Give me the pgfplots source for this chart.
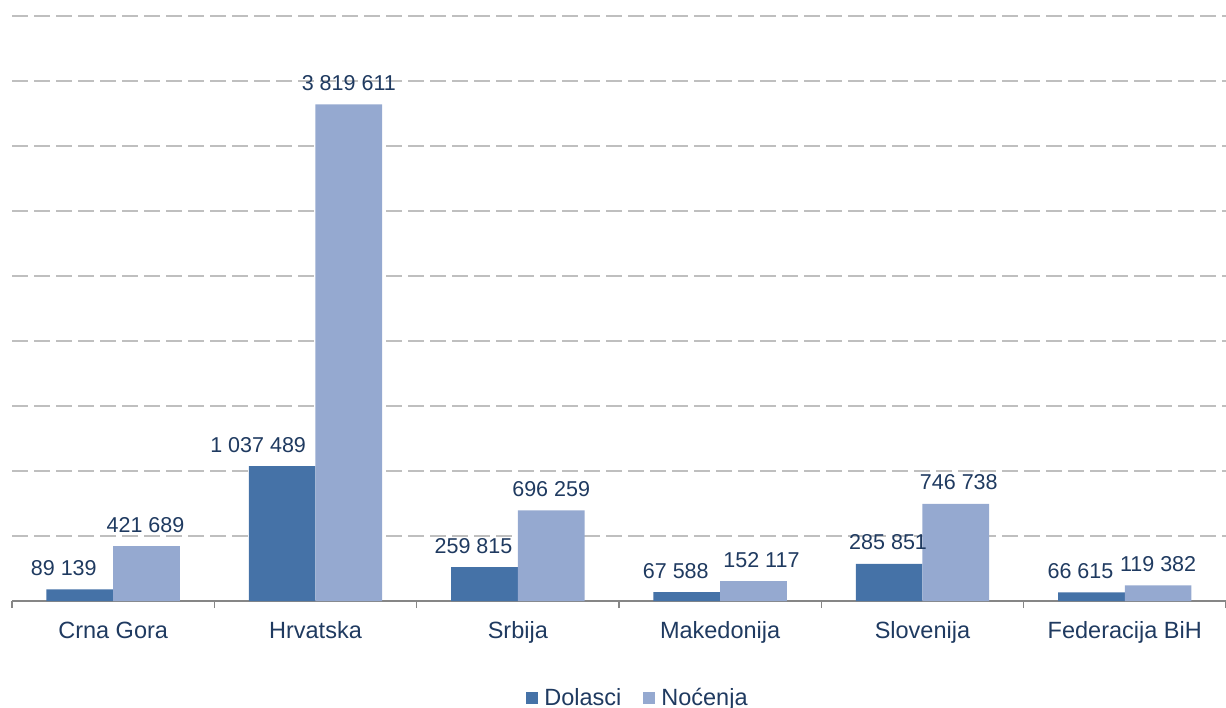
\documentclass[border=0pt]{standalone}
\usepackage{fontspec}
\setmainfont{Liberation Sans}
\usepackage{pgfplots}
\usepackage{pgfplotstable}
\pgfplotsset{compat=1.18}
\definecolor{navy}{RGB}{31,58,96}
\definecolor{darkbar}{RGB}{69,114,167}
\definecolor{lightbar}{RGB}{149,169,208}
\definecolor{gridgray}{RGB}{191,191,191}
\definecolor{axisgray}{RGB}{134,134,134}

\pgfplotstableread[col sep=comma]{
x,y,lab,dx
0,89139,89 139,-16
1,1037489,1 037 489,-24
2,259815,259 815,-11
3,67588,67 588,-11
4,285851,285 851,-1
5,66615,66 615,-11
}\dolasci
\pgfplotstableread[col sep=comma]{
x,y,lab,dx
0,421689,421 689,-1
1,3819611,3 819 611,0
2,696259,696 259,0
3,152117,152 117,8
4,746738,746 738,3
5,119382,119 382,0
}\nocenja

\begin{document}
\begin{tikzpicture}
\useasboundingbox (-12bp,-107bp) rectangle (1214bp,601bp);
\begin{axis}[
 at={(0,0)}, anchor=south west,
 scale only axis, width=1214bp, height=585bp,
 xmin=-0.5, xmax=5.5, ymin=0, ymax=4500000,
 ybar=0pt, bar width=66.7bp,
 clip=false,
 axis x line=bottom, axis y line=left,
 x axis line style={-, draw=axisgray, line width=1.5bp},
 y axis line style={draw=none},
 xtick={0,...,5},
 xticklabels={Crna Gora,Hrvatska,Srbija,Makedonija,Slovenija,Federacija BiH},
 major x tick style={draw=none},
 minor xtick={-0.5,0.5,...,5.5},
 minor x tick style={draw=axisgray, line width=1.5bp},
 minor tick length=7bp, tick align=outside,
 xticklabel style={font=\fontsize{23.5bp}{28bp}\selectfont, text=navy, anchor=base, yshift=-33bp},
 ytick={0,500000,...,4500000},
 ymajorgrids,
 major y grid style={draw=gridgray, line width=2bp, dash pattern=on 16bp off 6bp},
 yticklabels={}, major y tick style={draw=none},
 scaled y ticks=false,
 point meta=explicit symbolic,
 nodes near coords,
 nodes near coords style={font=\fontsize{21.5bp}{26bp}\selectfont, text=navy, anchor=base, yshift=14bp},
 legend style={at={(0.5,0)}, anchor=north, xshift=18bp, yshift=-87bp,
   draw=none, fill=none, legend columns=2,
   font=\fontsize{23.5bp}{28bp}\selectfont, text=navy,
   inner sep=0pt, nodes={inner sep=0pt},
   /tikz/every odd column/.append style={column sep=6bp},
   /tikz/every even column/.append style={column sep=22bp}},
]
\addplot[fill=darkbar, draw=none,
  visualization depends on={\thisrow{dx} \as \dx},
  every node near coord/.append style={xshift=\dx bp},
  legend image code/.code={\fill[darkbar] (0bp,-6bp) rectangle (12bp,6bp);}]
  table[x=x, y=y, meta=lab] {\dolasci};
\addplot[fill=lightbar, draw=none,
  visualization depends on={\thisrow{dx} \as \dx},
  every node near coord/.append style={xshift=\dx bp},
  legend image code/.code={\fill[lightbar] (0bp,-6bp) rectangle (12bp,6bp);}]
  table[x=x, y=y, meta=lab] {\nocenja};
\legend{Dolasci, Noćenja}
\end{axis}
\end{tikzpicture}
\end{document}
